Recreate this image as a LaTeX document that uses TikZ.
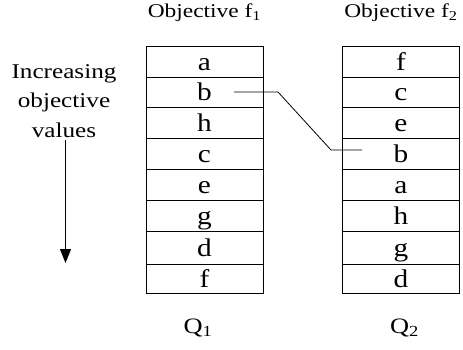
\documentclass[tikz,border=0pt]{standalone}
\usepackage{fontspec}
\usepackage{graphicx}
\setmainfont{Liberation Serif}
\usetikzlibrary{arrows.meta}
\newcommand{\wid}[1]{\scalebox{1.15}[1]{#1}}
\newcommand{\widt}[1]{\scalebox{1.2}[1]{#1}}
\tikzset{
  cell/.style={draw, line width=0.9pt, minimum width=117pt, inner sep=0pt,
               font=\fontsize{25.5}{25.5}\selectfont, text height=17pt, text depth=0pt},
  lbl/.style={inner sep=0pt, anchor=base},
  ttl/.style={lbl, font=\fontsize{19.5}{20}\selectfont},
  side/.style={lbl, font=\fontsize{21}{21}\selectfont},
  qlbl/.style={lbl, font=\fontsize{22}{22}\selectfont},
  conn/.style={line width=0.8pt},
}
\begin{document}
\begin{tikzpicture}[x=1pt,y=-1pt]
\useasboundingbox (0,0) rectangle (463,349);
% titles
\node[ttl] (t1) at (204.5,17) {\widt{Objective f\textsubscript{1}}};
\node[ttl] (t2) at (401,17) {\widt{Objective f\textsubscript{2}}};
% side text
\node[side] (inc1) at (64,78) {\widt{Increasing}};
\node[side] (inc2) at (64,107.5) {\widt{objective}};
\node[side] (inc3) at (64,137) {\widt{values}};
\coordinate (arrtop) at (65.5,140);
\coordinate (arrbot) at (65.5,263);
\draw[line width=0.9pt, -{Triangle[length=14pt,width=11pt]}] (arrtop) -- (arrbot);
% left column
\node[cell, minimum height=31pt] (l1) at (204.5,61.5) {\wid{a}};
\node[cell, minimum height=30pt] (l2) at (204.5,92) {\wid{b}};
\node[cell, minimum height=31pt] (l3) at (204.5,122.5) {\wid{h}};
\node[cell, minimum height=31pt] (l4) at (204.5,153.5) {\wid{c}};
\node[cell, minimum height=31pt] (l5) at (204.5,184.5) {\wid{e}};
\node[cell, minimum height=31pt] (l6) at (204.5,215.5) {\wid{g}};
\node[cell, minimum height=33pt] (l7) at (204.5,247.5) {\wid{d}};
\node[cell, minimum height=29pt] (l8) at (204.5,278.5) {\wid{f}};
% right column
\node[cell, minimum height=31pt] (r1) at (401,61.5) {\wid{f}};
\node[cell, minimum height=30pt] (r2) at (401,92) {\wid{c}};
\node[cell, minimum height=31pt] (r3) at (401,122.5) {\wid{e}};
\node[cell, minimum height=31pt] (r4) at (401,153.5) {\wid{b}};
\node[cell, minimum height=31pt] (r5) at (401,184.5) {\wid{a}};
\node[cell, minimum height=31pt] (r6) at (401,215.5) {\wid{h}};
\node[cell, minimum height=33pt] (r7) at (401,247.5) {\wid{g}};
\node[cell, minimum height=29pt] (r8) at (401,278.5) {\wid{d}};
% connector
\coordinate (cs) at (234,92);
\coordinate (cb1) at (278,92);
\coordinate (cb2) at (331,150);
\coordinate (ce) at (362,150);
\draw[conn] (cs) -- (cb1) -- (cb2) -- (ce);
% bottom labels
\node[qlbl] (q1) at (198,333) {\widt{Q\textsubscript{1}}};
\node[qlbl] (q2) at (404.5,333) {\widt{Q\textsubscript{2}}};
\end{tikzpicture}
\end{document}
